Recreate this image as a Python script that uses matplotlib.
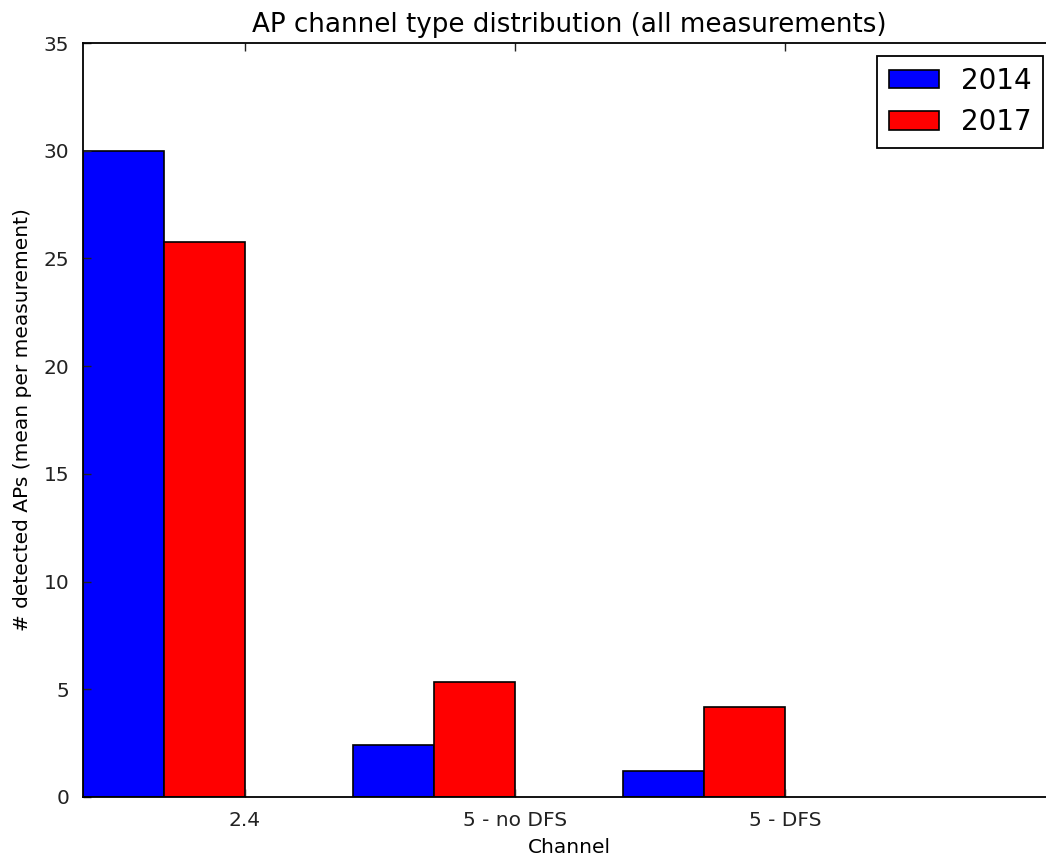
import matplotlib
matplotlib.use('Agg')
import matplotlib.pyplot as plt
import numpy as np

channels = ['2.4', '5 - no DFS', '5 - DFS']
aps_2014 = [30.0, 2.41, 1.2]
aps_2017 = [25.75, 5.32, 4.16]

plt.rcParams['font.family'] = 'DejaVu Sans'

fig = plt.figure(figsize=(10.46, 8.56), dpi=100)
# axes run slightly past the right edge of the canvas
ax = fig.add_axes([83 / 1046, 59 / 856, 972 / 1046, 754 / 856])

ind = np.arange(len(channels))
width = 0.3

ax.bar(ind, aps_2014, width, align='edge', color='#0000ff', edgecolor='black', linewidth=1.2, label='2014')
ax.bar(ind + width, aps_2017, width, align='edge', color='#ff0000', edgecolor='black', linewidth=1.2, label='2017')

ax.set_xlim(0, 3.6)
ax.set_ylim(0, 35)
ax.set_xticks(ind + 2 * width)
ax.set_xticklabels(channels)
ax.set_yticks(np.arange(0, 36, 5))

ax.tick_params(direction='in', length=6, width=1, top=True, right=True, labelsize=14.5, pad=10, colors='#222222')
for s in ax.spines.values():
    s.set_linewidth(1.3)

ax.set_title("AP channel type distribution (all measurements)", fontsize=18.8, pad=8)
ax.set_xlabel("Channel", fontsize=14.5, labelpad=6)
ax.set_ylabel("# detected APs (mean per measurement)", fontsize=14.5, labelpad=8)

leg = ax.legend(loc='upper right', fontsize=20, fancybox=False, handlelength=1.8, handleheight=0.65,
                borderaxespad=0.45, framealpha=1, edgecolor='black', handletextpad=0.8, labelspacing=0.5)
leg.get_frame().set_linewidth(1.3)

plt.savefig('out.png', dpi=100)
plt.close()
